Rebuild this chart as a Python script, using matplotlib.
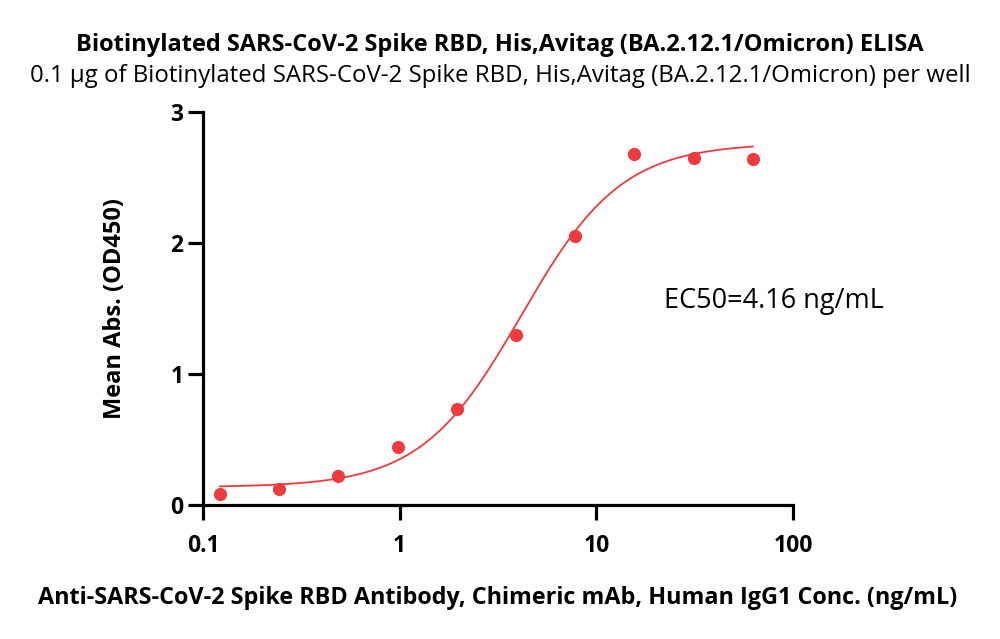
import numpy as np
import matplotlib
matplotlib.use("Agg")
import matplotlib.pyplot as plt

plt.rcParams['font.family'] = ['Open Sans', 'DejaVu Sans']

# concentrations (ng/mL) and mean OD450
conc = [0.122, 0.244, 0.488, 0.977, 1.95, 3.9, 7.8, 15.6, 31.25, 62.5]
od450 = [0.082, 0.122, 0.224, 0.445, 0.732, 1.297, 2.052, 2.683, 2.652, 2.639]

# 4PL fit parameters (estimated from the drawn curve)
bottom = 0.136
top = 2.762
ec50 = 4.16
hill = 1.70

red = '#ee3b3f'

fig = plt.figure(figsize=(10, 6.39), dpi=100)
ax = fig.add_axes([0.203, 0.2097, 0.59, 0.615])

xf = np.logspace(np.log10(conc[0]), np.log10(conc[-1]), 300)
yf = bottom + (top - bottom) / (1 + (ec50 / xf) ** hill)
ax.plot(xf, yf, color=red, lw=1.3)
ax.plot(conc, od450, 'o', color=red, ms=9.5, mec='none')

ax.set_xscale('log')
ax.set_xlim(0.1, 100)
ax.set_ylim(0, 3)
ax.set_xticks([0.1, 1, 10, 100])
ax.set_xticklabels(['0.1', '1', '10', '100'])
ax.set_yticks([0, 1, 2, 3])
ax.minorticks_off()
for s in ['top', 'right']:
    ax.spines[s].set_visible(False)
for s in ['left', 'bottom']:
    ax.spines[s].set_linewidth(2.3)
ax.tick_params(width=2.3, length=11, labelsize=16.5)
for lab in ax.get_xticklabels() + ax.get_yticklabels():
    lab.set_fontweight('bold')
ax.tick_params(axis='x', pad=10)
ax.tick_params(axis='y', pad=3)

ax.set_ylabel('Mean Abs. (OD450)', fontsize=17, fontweight='bold', labelpad=31)
ax.set_xlabel('Anti-SARS-CoV-2 Spike RBD Antibody, Chimeric mAb, Human IgG1 Conc. (ng/mL)',
              fontsize=16.8, fontweight='bold', labelpad=20)

ax.text(0.782, 0.52, 'EC50=4.16 ng/mL', transform=ax.transAxes, fontsize=19.5, va='center')

fig.text(0.5, 0.93, 'Biotinylated SARS-CoV-2 Spike RBD, His,Avitag (BA.2.12.1/Omicron) ELISA',
         ha='center', va='center', fontsize=17, fontweight='bold')
fig.text(0.5, 0.881, '0.1 \u03bcg of Biotinylated SARS-CoV-2 Spike RBD, His,Avitag (BA.2.12.1/Omicron) per well',
         ha='center', va='center', fontsize=17.3)

fig.savefig('out.png', dpi=100)
